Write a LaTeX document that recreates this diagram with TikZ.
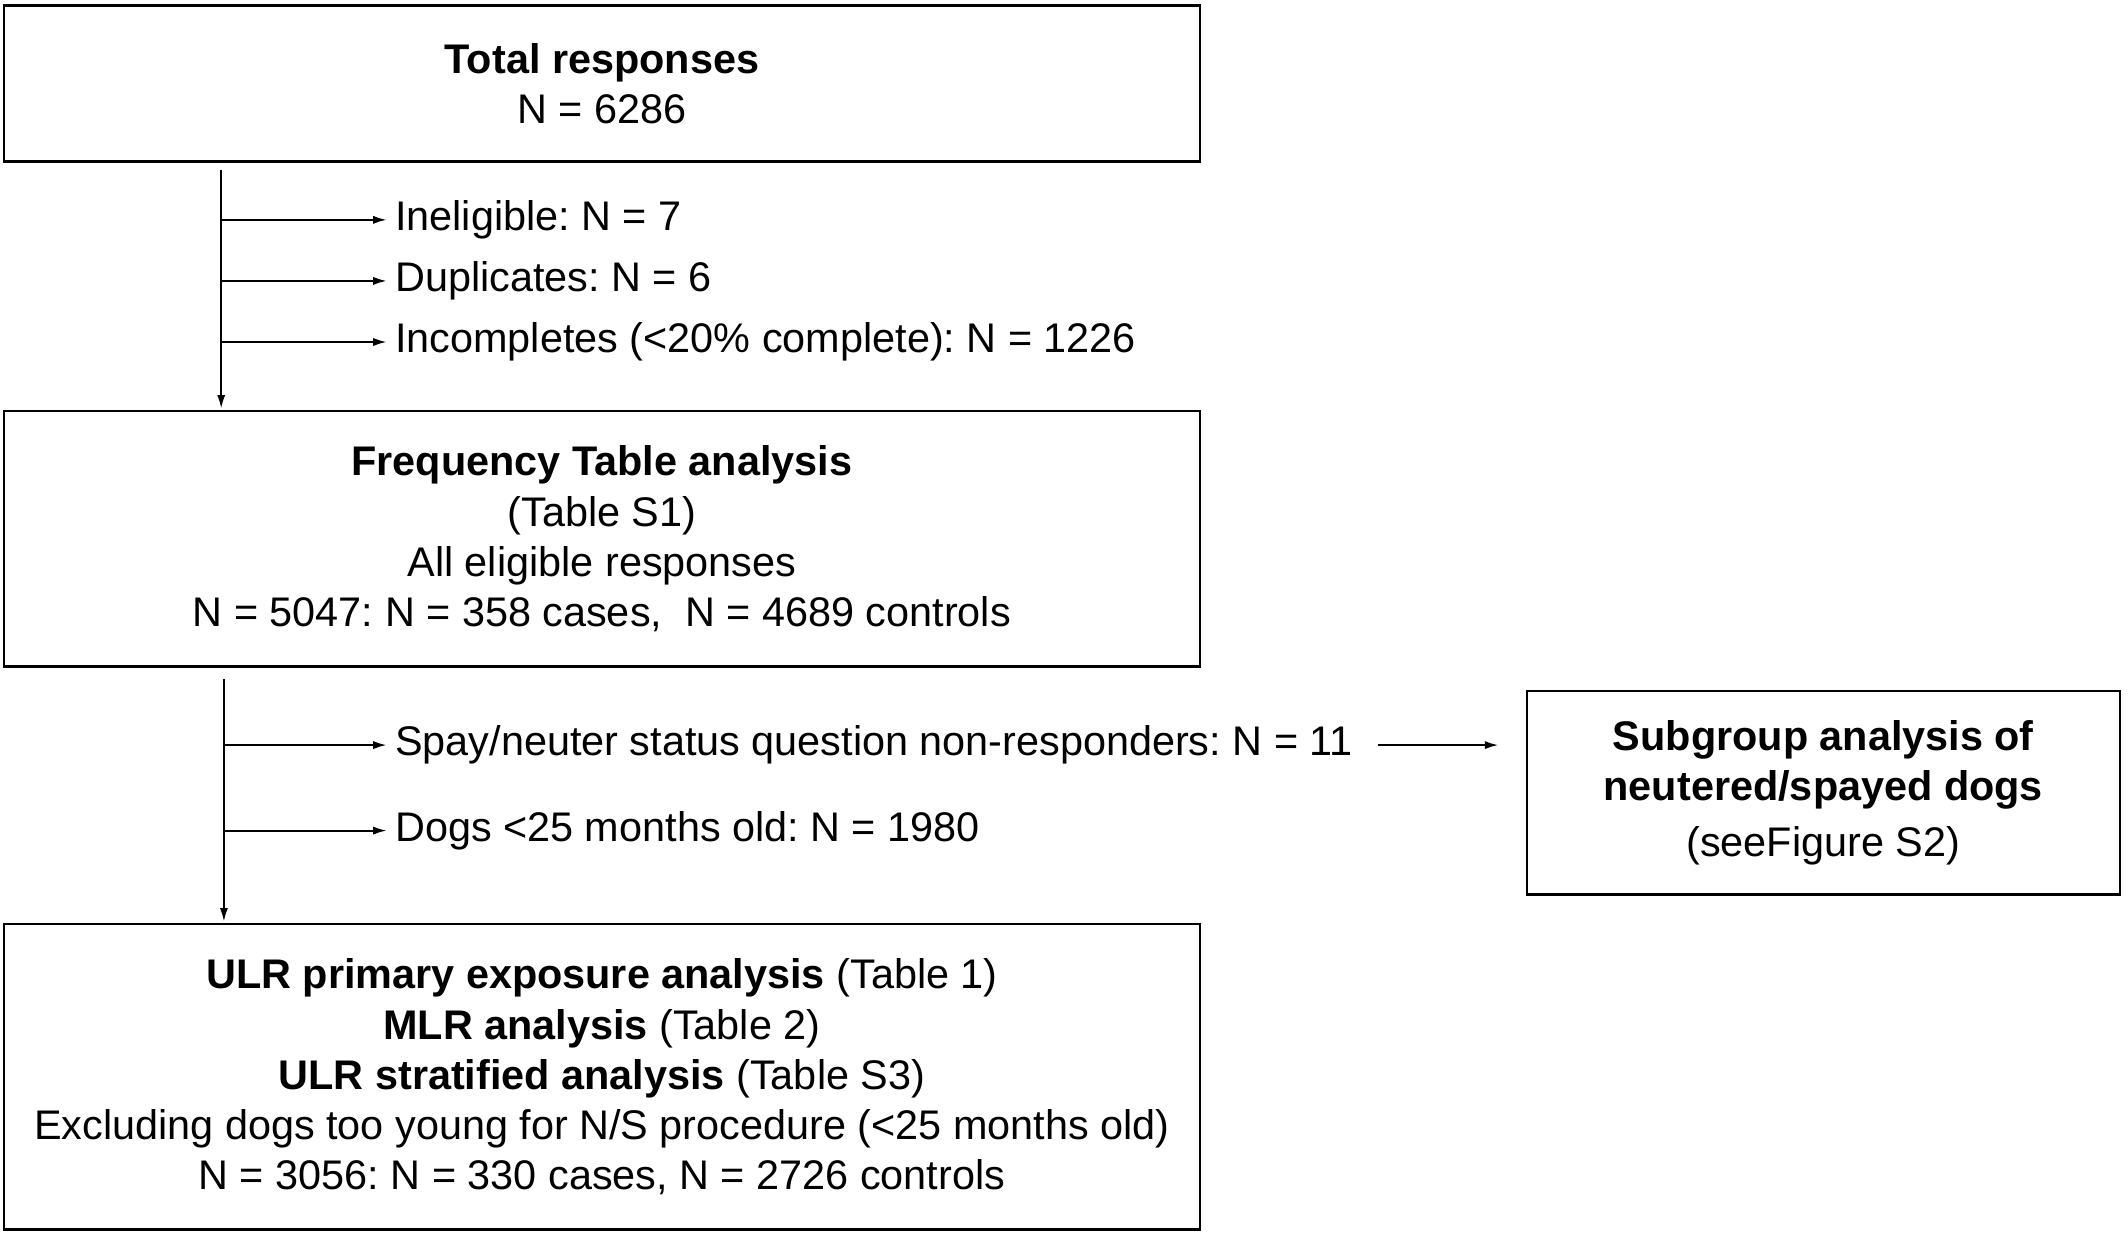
\documentclass[tikz,border=0pt]{standalone}
\usepackage{fontspec}
\setmainfont{Liberation Sans}
\usetikzlibrary{arrows.meta,calc}
\frenchspacing

\begin{document}
\begin{tikzpicture}[
		x=1pt, y=-1pt,
		font=\fontsize{30.5}{37}\selectfont,
		arrow/.style={-{Latex[length=10pt,width=6pt]}, line width=1.5pt, shorten >=6pt},
		block/.style={draw, line width=1.8pt, minimum width=881pt, align=center},
		note/.style={anchor=west, inner sep=0pt},
	]
		\useasboundingbox (0,0) rectangle (1568,911);
		\node at (443.5,61.5) (total) [block, minimum height=115pt] {\textbf{Total responses}\\N = 6286};
		\node at (443.5,397) (freq) [block, minimum height=188pt] {\textbf{Frequency Table analysis}\\(Table S1)\\All eligible responses\\N = 5047: N = 358 cases,\ \ N = 4689 controls};
		\node at (1343.5,584) (subgroup) [block, minimum width=437pt, minimum height=150pt] {\textbf{Subgroup analysis of}\\\textbf{neutered/spayed dogs}\\[4pt](seeFigure S2)};
		\node at (443.5,793.5) (ulr) [block, minimum height=225pt] {\textbf{ULR primary exposure analysis} (Table 1)\\\textbf{MLR analysis} (Table 2)\\\textbf{ULR stratified analysis} (Table S3)\\Excluding dogs too young for N/S procedure (<25 months old)\\N = 3056: N = 330 cases, N = 2726 controls};
		
		\node at (291,162) (inel) [note] {Ineligible: N = 7};
		\node at (291,207) (dup) [note] {Duplicates: N = 6};
		\node at (291,252) (incomp) [note] {Incompletes (<20\% complete): N = 1226};
		\node at (291,549) (spay) [note] {Spay/neuter status question non-responders: N = 11};
		\node at (291,612) (young) [note] {Dogs <25 months old: N = 1980};
		
		\coordinate (trunkA) at (163,125);
		\coordinate (trunkB) at (165,500);
		
		\draw[arrow, shorten >=1pt] (trunkA) -- (trunkA |- freq.north);
		\draw[arrow] (trunkA |- inel.west) -- (inel.west);
		\draw[arrow] (trunkA |- dup.west) -- (dup.west);
		\draw[arrow] (trunkA |- incomp.west) -- (incomp.west);
		
		\draw[arrow, shorten >=1pt] (trunkB) -- (trunkB |- ulr.north);
		\draw[arrow] (trunkB |- spay.west) -- (spay.west);
		\draw[arrow] (trunkB |- young.west) -- (young.west);
		\draw[arrow, shorten <=18pt, shorten >=20pt] (spay.east) -- (spay.east -| subgroup.west);
	\end{tikzpicture}
\end{document}
